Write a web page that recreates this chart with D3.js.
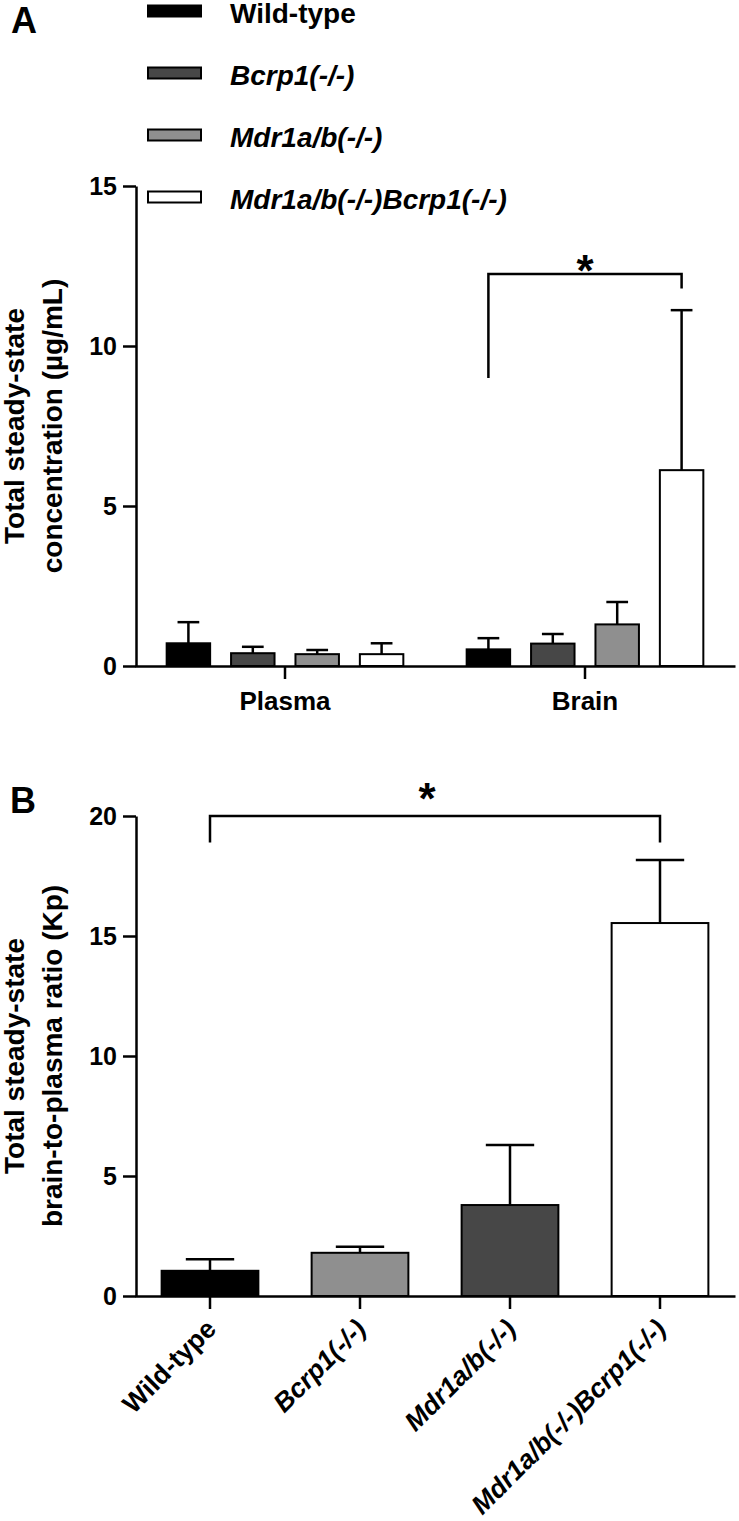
<!DOCTYPE html>
<html>
<head>
<meta charset="utf-8">
<script src="https://cdn.jsdelivr.net/npm/d3@7"></script>
<style>
  body { margin: 0; background: #fff; }
  svg { display: block; }
  text { font-family: "Liberation Sans", Arial, sans-serif; font-weight: bold; fill: #000; }
</style>
</head>
<body>
<div id="container"></div>
<script>
// genotypes, in legend order
const genotypes = ["Wild-type", "Bcrp1(-/-)", "Mdr1a/b(-/-)", "Mdr1a/b(-/-)Bcrp1(-/-)"];
const groups = ["Plasma", "Brain"];

// panel A: concentration (ug/mL), mean and SD
const plasmaMean = [0.71, 0.40, 0.37, 0.37];
const plasmaSD = [0.66, 0.20, 0.13, 0.34];
const brainMean = [0.52, 0.70, 1.30, 6.12];
const brainSD = [0.35, 0.30, 0.70, 5.00];

// panel B: brain-to-plasma ratio (Kp)
const kpMean = [1.05, 1.80, 3.79, 15.54];
const kpSD = [0.48, 0.25, 2.50, 2.63];

const colorsA = ["#000000", "#474747", "#8f8f8f", "#ffffff"];
const colorsB = ["#000000", "#8f8f8f", "#474747", "#ffffff"];

const ticksA = [0, 5, 10, 15];
const ticksB = [0, 5, 10, 15, 20];

// significance brackets (values in axis units)
const bracketA = {group: "Brain", from: 0, to: 3, top: 12.25, leftEnd: 9.0, rightEnd: 11.8};
const bracketB = {from: 0, to: 3, top: 20, leftEnd: 18.9, rightEnd: 18.9};

const svg = d3.select("#container")
    .append("svg")
    .attr("width", 739)
    .attr("height", 1521);

const italic = i => i > 0 ? "italic" : "normal";

// ---------- legend ----------
const leg = svg.append("g").selectAll("g")
    .data(genotypes)
    .join("g")
    .attr("transform", (d, i) => `translate(148,${11 + i * 62})`);
leg.append("rect")
    .attr("x", 0).attr("y", -5.5)
    .attr("width", 53).attr("height", 11)
    .attr("fill", (d, i) => colorsA[i])
    .attr("stroke", "#000")
    .attr("stroke-width", 2);
leg.append("text")
    .attr("x", 82).attr("y", 12)
    .attr("font-size", 28)
    .attr("font-style", (d, i) => italic(i))
    .text(d => d);

// ---------- panel A ----------
const yA = d3.scaleLinear().domain([0, 15]).range([666, 186]);
const xGroup = d3.scaleBand().domain(groups).range([135, 735]).padding(0);
const xSub = d3.scaleBand().domain(genotypes).range([-128.8, 128.8])
    .paddingInner(0.325).paddingOuter(0.1625);

svg.append("text").attr("x", 11).attr("y", 33).attr("font-size", 36).text("A");

const barsA = [];
groups.forEach(g => {
    const means = g === "Plasma" ? plasmaMean : brainMean;
    const sds = g === "Plasma" ? plasmaSD : brainSD;
    genotypes.forEach((k, i) => barsA.push({group: g, key: k, i: i, mean: means[i], sd: sds[i]}));
});

const gA = svg.append("g");
const cxA = d => xGroup(d.group) + xGroup.bandwidth() / 2 + xSub(d.key) + xSub.bandwidth() / 2;

// error bars (upper only)
gA.selectAll("line.err")
    .data(barsA)
    .join("line")
    .attr("x1", cxA).attr("x2", cxA)
    .attr("y1", d => yA(d.mean)).attr("y2", d => yA(d.mean + d.sd))
    .attr("stroke", "#000").attr("stroke-width", 2.5);
gA.selectAll("line.cap")
    .data(barsA)
    .join("line")
    .attr("x1", d => cxA(d) - xSub.bandwidth() / 4).attr("x2", d => cxA(d) + xSub.bandwidth() / 4)
    .attr("y1", d => yA(d.mean + d.sd)).attr("y2", d => yA(d.mean + d.sd))
    .attr("stroke", "#000").attr("stroke-width", 2.5);
gA.selectAll("rect")
    .data(barsA)
    .join("rect")
    .attr("x", d => cxA(d) - xSub.bandwidth() / 2)
    .attr("width", xSub.bandwidth())
    .attr("y", d => yA(d.mean))
    .attr("height", d => yA(0) - yA(d.mean))
    .attr("fill", d => colorsA[d.i])
    .attr("stroke", "#000").attr("stroke-width", 2);

svg.append("g")
    .attr("transform", "translate(136,0)")
    .call(d3.axisLeft(yA).tickValues(ticksA).tickSize(13).tickSizeOuter(0).tickPadding(6));
const xAxisA = svg.append("g")
    .attr("transform", `translate(0,${yA(0)})`)
    .call(d3.axisBottom(xGroup).tickSize(13).tickSizeOuter(0));
xAxisA.selectAll("text").attr("y", 44).attr("dy", 0).attr("font-size", 26);

// bracket A
const bxA = i => xGroup(bracketA.group) + xGroup.bandwidth() / 2 + xSub(genotypes[i]) + xSub.bandwidth() / 2;
const pathA = d3.path();
pathA.moveTo(bxA(bracketA.from), yA(bracketA.leftEnd));
pathA.lineTo(bxA(bracketA.from), yA(bracketA.top));
pathA.lineTo(bxA(bracketA.to), yA(bracketA.top));
pathA.lineTo(bxA(bracketA.to), yA(bracketA.rightEnd));
svg.append("path").attr("d", pathA.toString())
    .attr("fill", "none").attr("stroke", "#000").attr("stroke-width", 2.5);
svg.append("text")
    .attr("x", (bxA(bracketA.from) + bxA(bracketA.to)) / 2)
    .attr("y", yA(bracketA.top) + 12)
    .attr("text-anchor", "middle")
    .attr("font-size", 44)
    .text("*");

// y title A
const titleA = svg.append("text")
    .attr("transform", `translate(0,${(yA(0) + yA(15)) / 2}) rotate(-90)`)
    .attr("text-anchor", "middle")
    .attr("font-size", 28);
titleA.append("tspan").attr("x", 0).attr("y", 24).text("Total steady-state");
titleA.append("tspan").attr("x", 0).attr("y", 62).text("concentration (\u00b5g/mL)");

// ---------- panel B ----------
const yB = d3.scaleLinear().domain([0, 20]).range([1296, 816]);
const xB = d3.scaleBand().domain(genotypes).range([135, 735])
    .paddingInner(0.355).paddingOuter(0.1775);
const cxB = k => xB(k) + xB.bandwidth() / 2;

svg.append("text").attr("x", 10).attr("y", 813).attr("font-size", 36).text("B");

const barsB = genotypes.map((k, i) => ({key: k, i: i, mean: kpMean[i], sd: kpSD[i]}));
const gB = svg.append("g");
gB.selectAll("line.err")
    .data(barsB)
    .join("line")
    .attr("x1", d => cxB(d.key)).attr("x2", d => cxB(d.key))
    .attr("y1", d => yB(d.mean)).attr("y2", d => yB(d.mean + d.sd))
    .attr("stroke", "#000").attr("stroke-width", 2.5);
gB.selectAll("line.cap")
    .data(barsB)
    .join("line")
    .attr("x1", d => cxB(d.key) - xB.bandwidth() / 4).attr("x2", d => cxB(d.key) + xB.bandwidth() / 4)
    .attr("y1", d => yB(d.mean + d.sd)).attr("y2", d => yB(d.mean + d.sd))
    .attr("stroke", "#000").attr("stroke-width", 2.5);
gB.selectAll("rect")
    .data(barsB)
    .join("rect")
    .attr("x", d => xB(d.key))
    .attr("width", xB.bandwidth())
    .attr("y", d => yB(d.mean))
    .attr("height", d => yB(0) - yB(d.mean))
    .attr("fill", d => colorsB[d.i])
    .attr("stroke", "#000").attr("stroke-width", 2);

svg.append("g")
    .attr("transform", "translate(136,0)")
    .call(d3.axisLeft(yB).tickValues(ticksB).tickSize(13).tickSizeOuter(0).tickPadding(6));
const xAxisB = svg.append("g")
    .attr("transform", `translate(0,${yB(0)})`)
    .call(d3.axisBottom(xB).tickSize(13).tickSizeOuter(0));
xAxisB.selectAll("text")
    .attr("x", 0).attr("y", 0).attr("dy", "0.35em")
    .attr("transform", "translate(1,28) rotate(-45)")
    .attr("text-anchor", "end")
    .attr("font-size", 26.5)
    .attr("font-style", (d, i) => italic(i));

// bracket B
const pathB = d3.path();
pathB.moveTo(cxB(genotypes[bracketB.from]), yB(bracketB.leftEnd));
pathB.lineTo(cxB(genotypes[bracketB.from]), yB(bracketB.top));
pathB.lineTo(cxB(genotypes[bracketB.to]), yB(bracketB.top));
pathB.lineTo(cxB(genotypes[bracketB.to]), yB(bracketB.rightEnd));
svg.append("path").attr("d", pathB.toString())
    .attr("fill", "none").attr("stroke", "#000").attr("stroke-width", 2.5);
svg.append("text")
    .attr("x", (cxB(genotypes[bracketB.from]) + cxB(genotypes[bracketB.to])) / 2 - 8)
    .attr("y", yB(bracketB.top) - 2)
    .attr("text-anchor", "middle")
    .attr("font-size", 44)
    .text("*");

// y title B
const titleB = svg.append("text")
    .attr("transform", `translate(0,${(yB(0) + yB(20)) / 2}) rotate(-90)`)
    .attr("text-anchor", "middle")
    .attr("font-size", 28);
titleB.append("tspan").attr("x", 0).attr("y", 24).text("Total steady-state");
titleB.append("tspan").attr("x", 0).attr("y", 62).text("brain-to-plasma ratio (Kp)");

// shared axis styling
svg.selectAll(".domain, .tick line").attr("stroke", "#000").attr("stroke-width", 2.5);
svg.selectAll("g").attr("font-size", null).attr("font-family", null);
svg.selectAll("g.tick text").attr("fill", "#000").each(function () {
    if (!this.getAttribute("font-size")) this.setAttribute("font-size", 25);
});
</script>
</body>
</html>
